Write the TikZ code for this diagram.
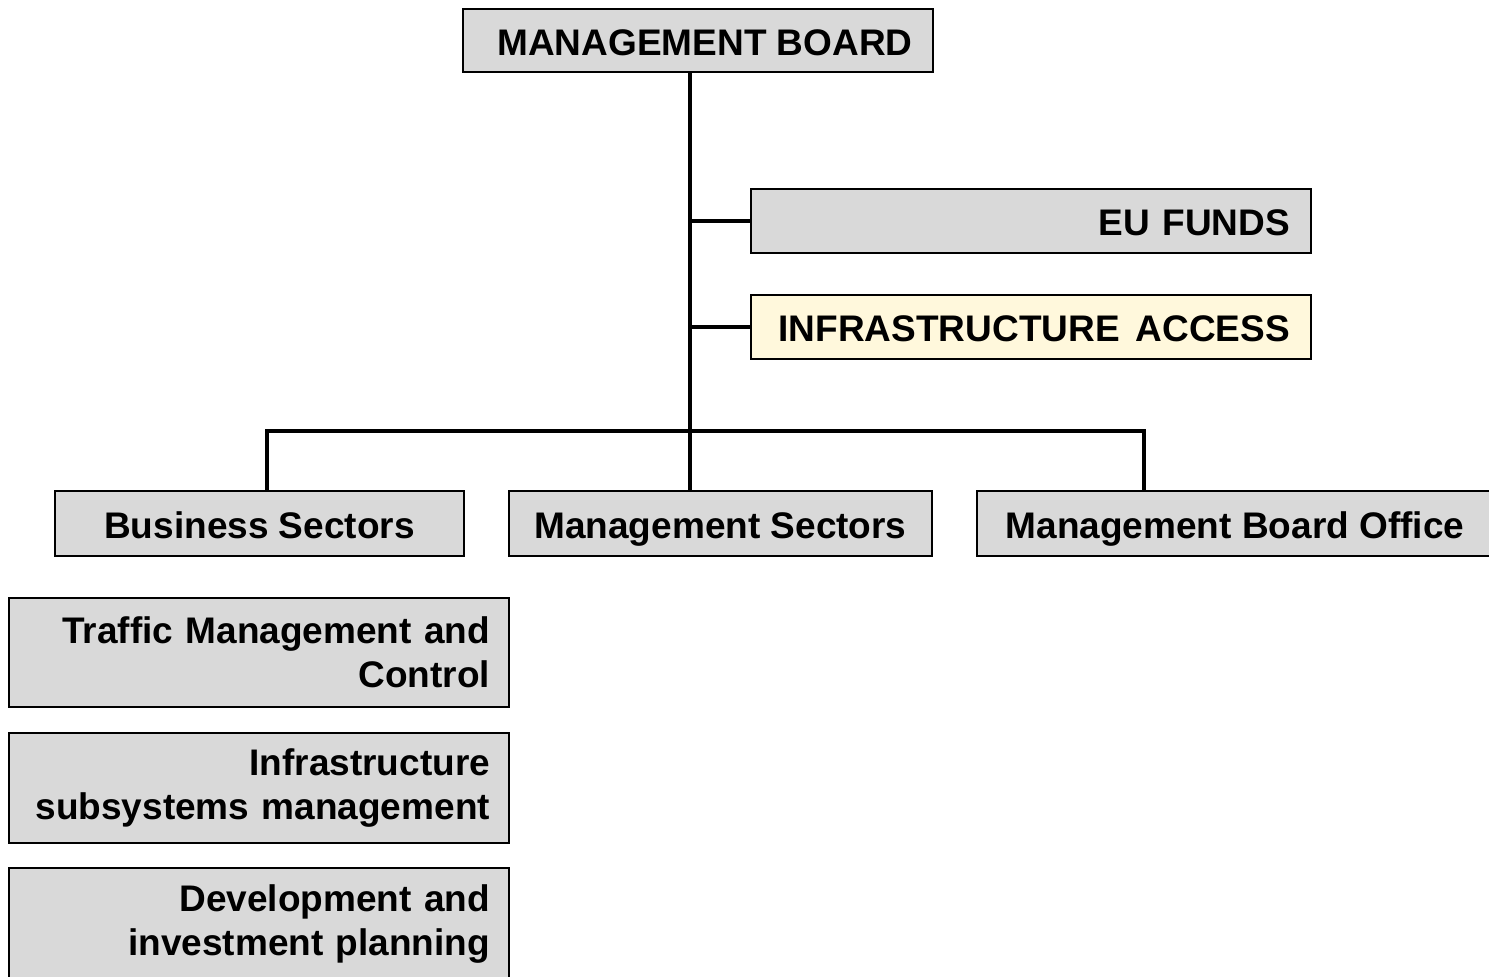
\documentclass[tikz,border=0pt]{standalone}
\usepackage{fontspec}
\setmainfont{Liberation Sans}
\definecolor{boxgray}{HTML}{D9D9D9}
\definecolor{boxyellow}{HTML}{FFF8DC}
\begin{document}
\begin{tikzpicture}[x=1pt,y=-1pt,
  box/.style={draw=black,line width=2pt,fill=boxgray,rectangle,inner sep=0pt,
    font=\bfseries\fontsize{37}{44}\selectfont,align=center},
  onel/.style={text height=36pt,text depth=7pt},
  rbox/.style={box,align=right},
  conn/.style={line width=4.5pt,line cap=rect}]
\useasboundingbox (0,0) rectangle (1489,977);
\node[box,onel,minimum width=470pt,minimum height=63pt] (mb) at (698,40.5) {\hspace*{14pt}MANAGEMENT BOARD};
\node[rbox,onel,minimum height=64pt,text width=518pt,inner xsep=21pt] (eu) at (1031,221) {EU FUNDS};
\node[rbox,onel,fill=boxyellow,minimum height=64pt,text width=518pt,inner xsep=21pt] (ia) at (1031,327) {\makebox[518pt][r]{INFRASTRUCTURE\hspace{16pt}ACCESS}};
\node[box,onel,minimum width=409pt,minimum height=65pt] (bs) at (259.5,523.5) {Business Sectors};
\node[box,onel,minimum width=423pt,minimum height=65pt] (ms) at (720.5,523.5) {Management Sectors};
\node[box,onel,minimum width=516pt,minimum height=65pt] (mbo) at (1235,523.5) {Management Board Office};
\node[rbox,minimum height=109pt,text width=462pt,inner xsep=19pt] (tm) at (259,652.5) {Traffic Management and\\Control};
\node[rbox,minimum height=110pt,text width=462pt,inner xsep=19pt] (is) at (259,788) {Infrastructure\\subsystems management};
\node[rbox,minimum height=112pt,text width=462pt,inner xsep=19pt] (dp) at (259,924) {Development and\\investment planning};
\coordinate (bar) at (690,431);
\coordinate (bl) at (267,431);
\coordinate (br) at (1144,431);
\draw[conn] (bar |- mb.south) -- (bar |- ms.north);
\draw[conn] (bar |- eu.west) -- (eu.west);
\draw[conn] (bar |- ia.west) -- (ia.west);
\draw[conn,line join=miter] (bl |- bs.north) -- (bl) -- (br) -- (br |- mbo.north);
\end{tikzpicture}
\end{document}
